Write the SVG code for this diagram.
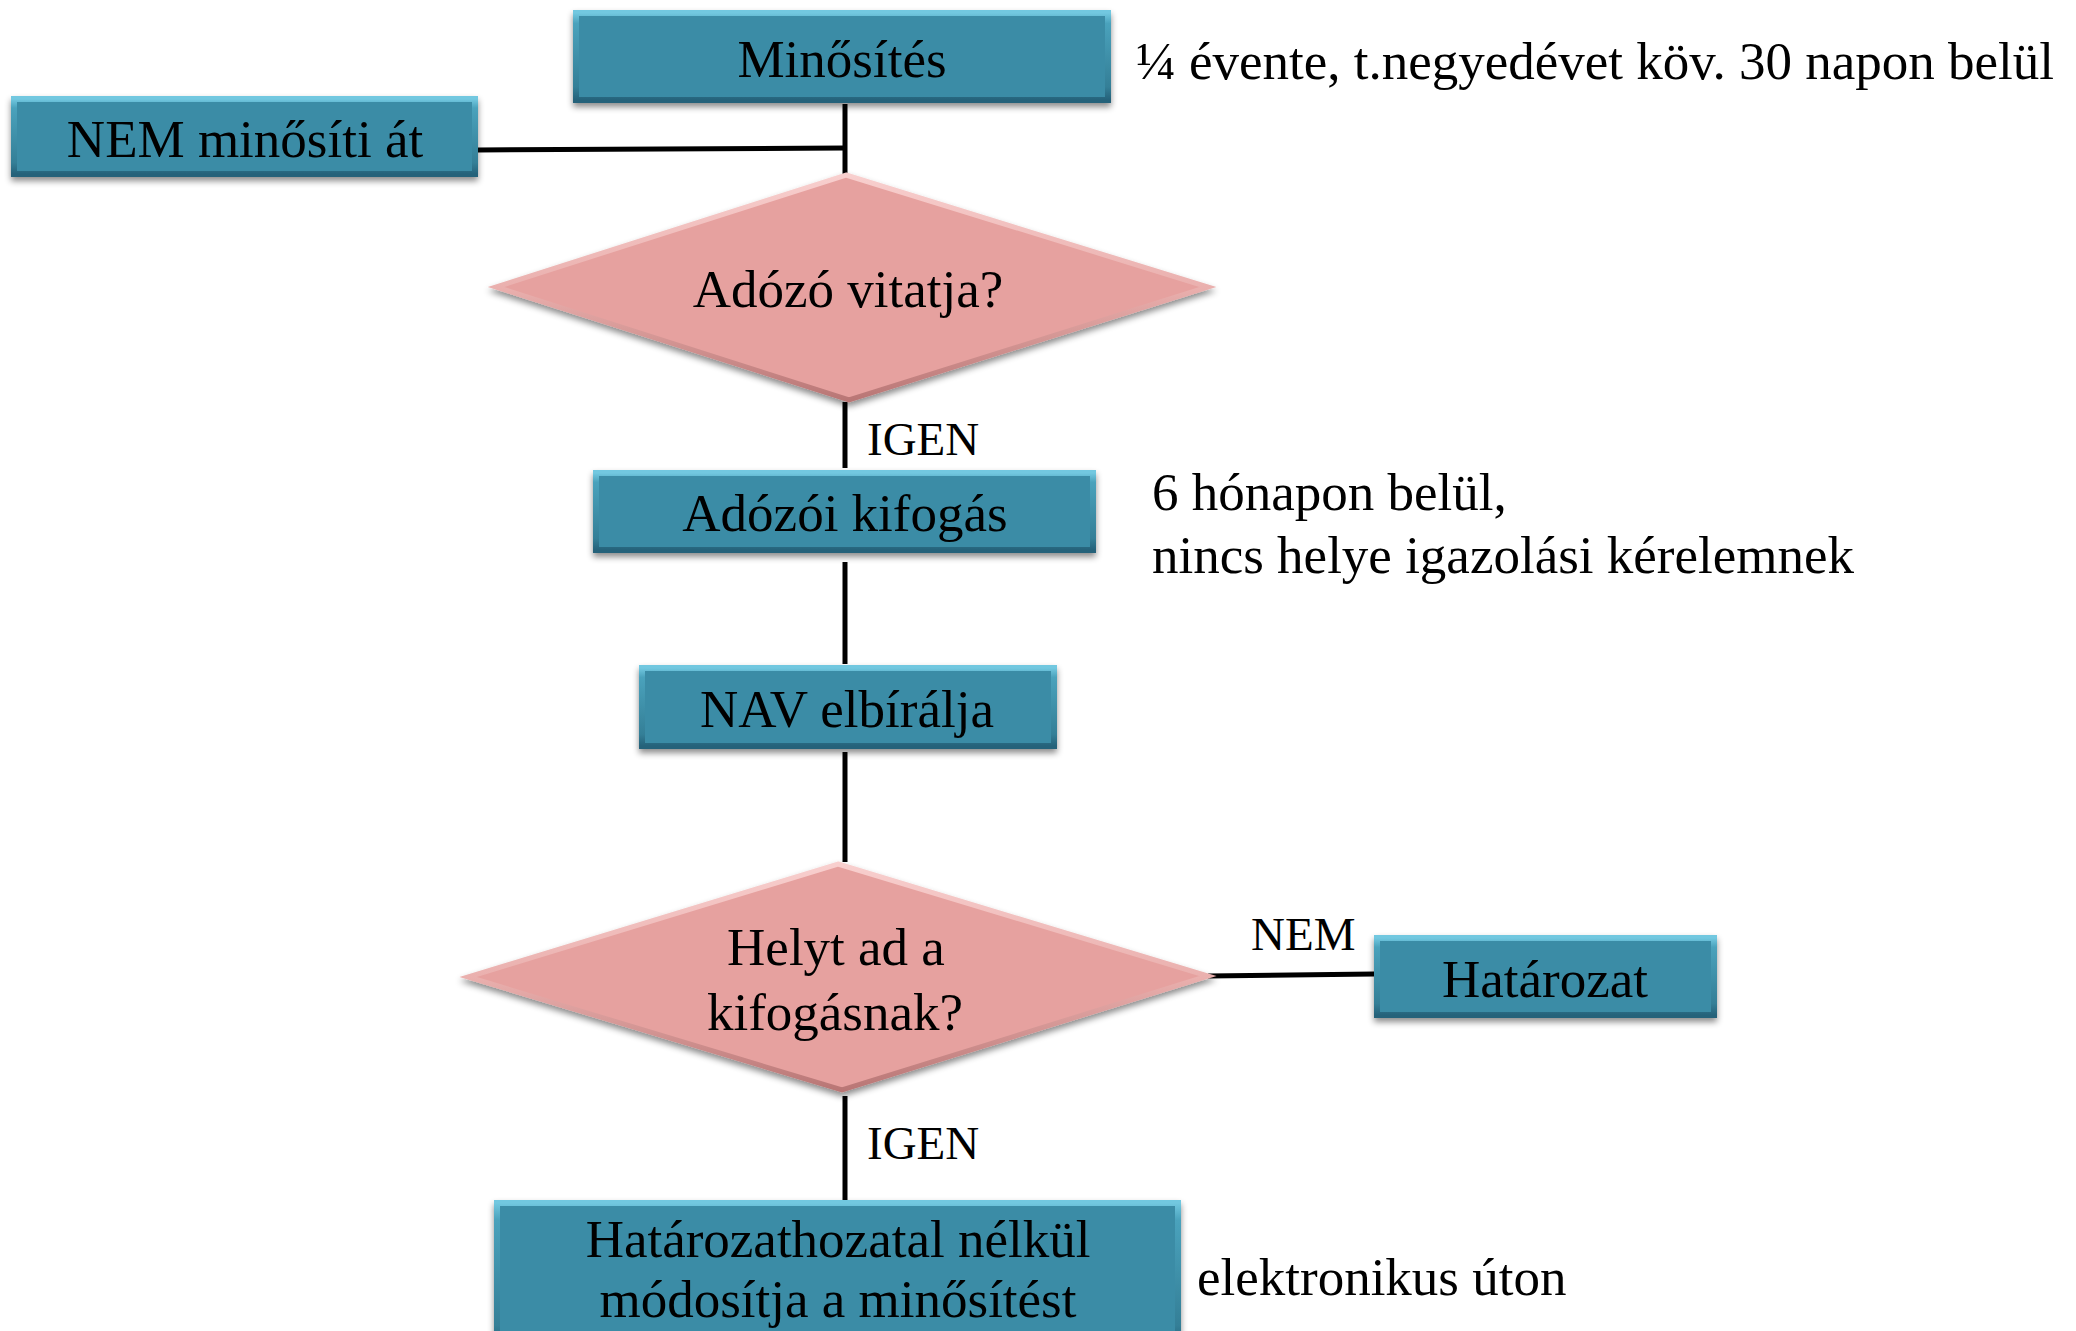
<svg xmlns="http://www.w3.org/2000/svg" width="2076" height="1331" viewBox="0 0 2076 1331">
<defs>
<filter id="sh" x="-10%" y="-10%" width="120%" height="130%">
<feDropShadow dx="0" dy="4" stdDeviation="3" flood-color="#000" flood-opacity="0.45"/>
</filter>
<linearGradient id="bevB" x1="0" y1="0" x2="0" y2="1">
<stop offset="0" stop-color="#72c8e0"/>
<stop offset="0.12" stop-color="#4aa2bc"/>
<stop offset="0.85" stop-color="#347f97"/>
<stop offset="1" stop-color="#25627a"/>
</linearGradient>
<linearGradient id="bevD" x1="0" y1="0" x2="0" y2="1">
<stop offset="0" stop-color="#f8cfce"/>
<stop offset="0.5" stop-color="#eab0ae"/>
<stop offset="1" stop-color="#b97675"/>
</linearGradient>
<style>
.box{fill:#3a8ca6;filter:url(#sh)}
.bev{fill:none;stroke:url(#bevB);stroke-width:6}
.dia{fill:#e6a19f;stroke:url(#bevD);stroke-width:5;stroke-linejoin:miter;filter:url(#sh)}
.t{font-family:"Liberation Serif","Times New Roman",serif;font-size:53px;fill:#000}
.c{text-anchor:middle}
.lbl{font-family:"Liberation Serif","Times New Roman",serif;font-size:47px;fill:#000}
.ln{stroke:#000;stroke-width:5;fill:none}
</style>
</defs>

<g id="connectors">
<line class="ln" x1="845" y1="104" x2="845" y2="178"/>
<line class="ln" x1="478" y1="150" x2="845" y2="148"/>
<line class="ln" x1="845" y1="402" x2="845" y2="468"/>
<line class="ln" x1="845" y1="562" x2="845" y2="664"/>
<line class="ln" x1="845" y1="752" x2="845" y2="862"/>
<line class="ln" x1="1208" y1="976" x2="1374" y2="974"/>
<line class="ln" x1="845" y1="1096" x2="845" y2="1200"/>
</g>

<g id="minosites">
<rect class="box" x="573" y="10" width="538" height="93"/>
<rect class="bev" x="576" y="13" width="532" height="87"/>
<text class="t c" x="842" y="77">Minősítés</text>
</g>

<g id="nem-minositi">
<rect class="box" x="11" y="96" width="467" height="81"/>
<rect class="bev" x="14" y="99" width="461" height="75"/>
<text class="t c" x="245" y="157">NEM minősíti át</text>
</g>

<g id="adozo-vitatja">
<polygon class="dia" points="846,175 1208,287 849,400 496,287"/>
<text class="t c" x="848" y="307">Adózó vitatja?</text>
</g>

<g id="adozoi-kifogas">
<rect class="box" x="593" y="470" width="503" height="83"/>
<rect class="bev" x="596" y="473" width="497" height="77"/>
<text class="t c" x="845" y="531">Adózói kifogás</text>
</g>

<g id="nav-elbiralja">
<rect class="box" x="639" y="665" width="418" height="84"/>
<rect class="bev" x="642" y="668" width="412" height="78"/>
<text class="t c" x="847" y="727">NAV elbírálja</text>
</g>

<g id="helyt-ad">
<polygon class="dia" points="838,864 1208,976 842,1090 468,977"/>
<text class="t c" x="836" y="965">Helyt ad a</text>
<text class="t c" x="835" y="1030">kifogásnak?</text>
</g>

<g id="hatarozat">
<rect class="box" x="1374" y="935" width="343" height="83"/>
<rect class="bev" x="1377" y="938" width="337" height="77"/>
<text class="t c" x="1545" y="997">Határozat</text>
</g>

<g id="modositja">
<rect class="box" x="494" y="1200" width="687" height="150"/>
<rect class="bev" x="497" y="1203" width="681" height="144"/>
<text class="t c" x="838" y="1257">Határozathozatal nélkül</text>
<text class="t c" x="838" y="1317">módosítja a minősítést</text>
</g>

<g id="notes">
<text class="t" x="1136" y="79">¼ évente, t.negyedévet köv. 30 napon belül</text>
<text class="t" x="1152" y="510">6 hónapon belül,</text>
<text class="t" x="1152" y="573">nincs helye igazolási kérelemnek</text>
<text class="t" x="1197" y="1295">elektronikus úton</text>
<text class="lbl" x="867" y="455">IGEN</text>
<text class="lbl" x="867" y="1159">IGEN</text>
<text class="lbl" x="1251" y="950">NEM</text>
</g>
</svg>
